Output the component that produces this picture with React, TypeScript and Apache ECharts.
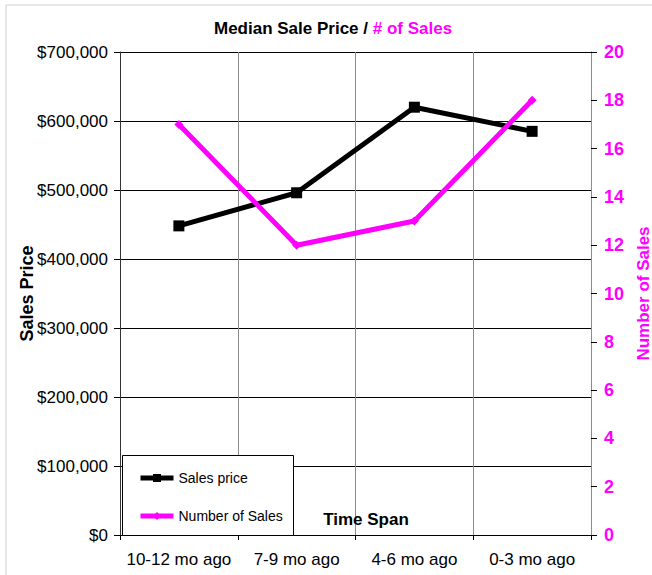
import React, { useEffect, useRef } from "react";
import * as echarts from "echarts";

const categories = ["10-12 mo ago", "7-9 mo ago", "4-6 mo ago", "0-3 mo ago"];
const salesPrice = [448000, 496000, 620000, 585000];
const numberOfSales = [17, 12, 13, 18];

const FONT = "'Liberation Sans', Arial, sans-serif";
const MAGENTA = "#FF00FF";

export default function App() {
  const ref = useRef<HTMLDivElement>(null);
  useEffect(() => {
    if (!ref.current) return;
    const chart = echarts.init(ref.current, null, { renderer: "svg" });
    chart.setOption({
      animation: false,
      backgroundColor: "#ffffff",
      textStyle: { fontFamily: FONT },
      title: {
        text: "{a|Median Sale Price / }{b|# of Sales}",
        left: 209,
        top: 15,
        textStyle: {
          rich: {
            a: { fontFamily: FONT, fontSize: 17, fontWeight: "bold", color: "#000" },
            b: { fontFamily: FONT, fontSize: 17, fontWeight: "bold", color: MAGENTA },
          },
        },
      },
      grid: { left: 120, right: 61, top: 52, bottom: 40, outerBoundsMode: "none", containLabel: false },
      legend: {
        orient: "vertical",
        left: 133,
        top: 466,
        itemWidth: 33,
        itemHeight: 10,
        itemGap: 24,
        z: 5,
        lineStyle: { width: 5 },
        textStyle: { fontFamily: FONT, fontSize: 14, color: "#000" },
        data: ["Sales price", "Number of Sales"],
      },
      graphic: [
        {
          type: "rect",
          z: 4,
          shape: { x: 6, y: 5, width: 700, height: 620 },
          style: { fill: "none", stroke: "#cfcfcf", lineWidth: 1 },
          silent: true,
        },
        {
          type: "rect",
          z: 4,
          shape: { x: 122.5, y: 455.5, width: 171, height: 80 },
          style: { fill: "#ffffff", stroke: "#000", lineWidth: 1 },
          silent: true,
        },
        {
          type: "text",
          z: 5,
          x: 366,
          y: 519,
          style: {
            text: "Time Span",
            fontFamily: FONT,
            fontSize: 17,
            fontWeight: "bold",
            fill: "#000",
            align: "center",
            verticalAlign: "middle",
          },
        },
      ],
      xAxis: {
        type: "category",
        data: categories,
        boundaryGap: true,
        axisLine: { lineStyle: { color: "#000", width: 1 } },
        axisTick: { show: true, interval: 0, length: 5, lineStyle: { color: "#000" } },
        axisLabel: { interval: 0, fontFamily: FONT, fontSize: 17, color: "#000", margin: 16 },
        splitLine: { show: true, interval: 0, lineStyle: { color: "#8c8c8c", width: 1 } },
      },
      yAxis: [
        {
          type: "value",
          min: 0,
          max: 700000,
          interval: 100000,
          name: "Sales Price",
          nameLocation: "middle",
          nameGap: 84,
          nameMoveOverlap: false,
          nameTextStyle: { fontFamily: FONT, fontSize: 18, fontWeight: "bold", color: "#000" },
          axisLine: { show: true, lineStyle: { color: "#333", width: 1 } },
          axisTick: { show: true, length: 6, lineStyle: { color: "#000" } },
          axisLabel: {
            fontFamily: FONT,
            fontSize: 17,
            color: "#000",
            margin: 12,
            formatter: (v: number) => "$" + v.toLocaleString("en-US"),
          },
          splitLine: { show: true, lineStyle: { color: "#000", width: 1 } },
        },
        {
          type: "value",
          min: 0,
          max: 20,
          interval: 2,
          position: "right",
          name: "Number of Sales",
          nameLocation: "middle",
          nameGap: 44,
          nameMoveOverlap: false,
          nameTextStyle: { fontFamily: FONT, fontSize: 17, fontWeight: "bold", color: MAGENTA },
          axisLine: { show: true, lineStyle: { color: "#8c8c8c", width: 1 } },
          axisTick: { show: true, length: 6, lineStyle: { color: "#000" } },
          axisLabel: {
            fontFamily: FONT,
            fontSize: 18,
            fontWeight: "bold",
            color: MAGENTA,
            margin: 13,
          },
          splitLine: { show: false },
        },
      ],
      series: [
        {
          name: "Sales price",
          type: "line",
          yAxisIndex: 0,
          data: salesPrice,
          symbol: "rect",
          symbolSize: 11,
          lineStyle: { color: "#000", width: 5 },
          itemStyle: { color: "#000" },
          z: 3,
        },
        {
          name: "Number of Sales",
          type: "line",
          yAxisIndex: 1,
          data: numberOfSales,
          symbol: "diamond",
          symbolSize: 9,
          lineStyle: { color: MAGENTA, width: 5 },
          itemStyle: { color: MAGENTA },
          z: 3,
        },
      ],
    });
    return () => chart.dispose();
  }, []);
  return (
    <div
      ref={ref}
      style={{ position: "absolute", left: 0, top: 0, width: 652, height: 575 }}
    />
  );
}
